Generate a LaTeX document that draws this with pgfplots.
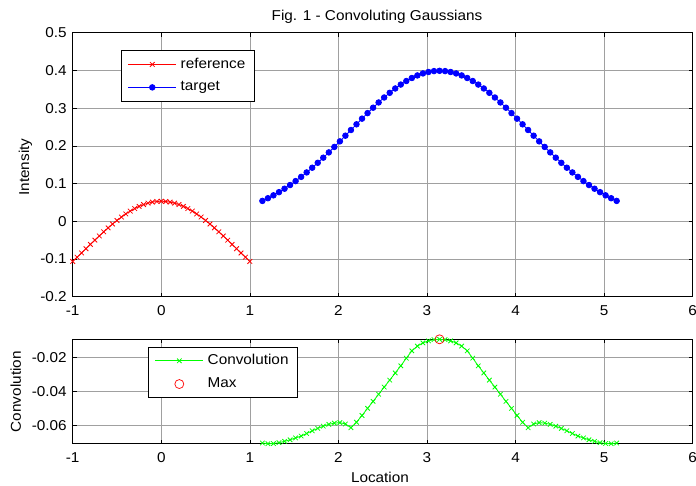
\documentclass[border=0pt]{standalone}
\usepackage{fontspec}
\setmainfont{Liberation Sans}[FakeStretch=1.07]
\usepackage{pgfplots}
\usepackage{pgfplotstable}
\pgfplotsset{compat=1.18}

\pgfplotstableread{
x y
-1.00 -0.1065
-0.95 -0.0953
-0.90 -0.0840
-0.85 -0.0727
-0.80 -0.0613
-0.75 -0.0500
-0.70 -0.0389
-0.65 -0.0280
-0.60 -0.0175
-0.55 -0.0073
-0.50 0.0022
-0.45 0.0112
-0.40 0.0195
-0.35 0.0270
-0.30 0.0337
-0.25 0.0395
-0.20 0.0443
-0.15 0.0481
-0.10 0.0508
-0.05 0.0524
0.00 0.0532
0.05 0.0524
0.10 0.0508
0.15 0.0481
0.20 0.0443
0.25 0.0395
0.30 0.0337
0.35 0.0270
0.40 0.0195
0.45 0.0112
0.50 0.0022
0.55 -0.0073
0.60 -0.0175
0.65 -0.0280
0.70 -0.0389
0.75 -0.0500
0.80 -0.0613
0.85 -0.0727
0.90 -0.0840
0.95 -0.0953
1.00 -0.1065
}\reftab

\pgfplotstableread{
x t c
1.1416 0.0540 -0.0702
1.2041 0.0611 -0.0706
1.2666 0.0688 -0.0705
1.3291 0.0772 -0.0700
1.3916 0.0863 -0.0692
1.4541 0.0961 -0.0683
1.5166 0.1065 -0.0672
1.5791 0.1177 -0.0661
1.6416 0.1295 -0.0646
1.7041 0.1420 -0.0630
1.7666 0.1550 -0.0616
1.8291 0.1686 -0.0603
1.8916 0.1826 -0.0592
1.9541 0.1971 -0.0585
2.0166 0.2119 -0.0582
2.0791 0.2269 -0.0590
2.1416 0.2420 -0.0612
2.2041 0.2571 -0.0580
2.2666 0.2721 -0.0540
2.3291 0.2868 -0.0498
2.3916 0.3011 -0.0457
2.4541 0.3150 -0.0415
2.5166 0.3282 -0.0373
2.5791 0.3406 -0.0332
2.6416 0.3521 -0.0290
2.7041 0.3625 -0.0248
2.7666 0.3719 -0.0203
2.8291 0.3799 -0.0160
2.8916 0.3867 -0.0132
2.9541 0.3920 -0.0113
3.0166 0.3958 -0.0101
3.0791 0.3982 -0.0094
3.1416 0.3989 -0.0092
3.2041 0.3982 -0.0094
3.2666 0.3958 -0.0101
3.3291 0.3920 -0.0113
3.3916 0.3867 -0.0132
3.4541 0.3799 -0.0160
3.5166 0.3719 -0.0203
3.5791 0.3625 -0.0248
3.6416 0.3521 -0.0290
3.7041 0.3406 -0.0332
3.7666 0.3282 -0.0373
3.8291 0.3150 -0.0415
3.8916 0.3011 -0.0457
3.9541 0.2868 -0.0498
4.0166 0.2721 -0.0540
4.0791 0.2571 -0.0580
4.1416 0.2420 -0.0612
4.2041 0.2269 -0.0590
4.2666 0.2119 -0.0582
4.3291 0.1971 -0.0585
4.3916 0.1826 -0.0592
4.4541 0.1686 -0.0603
4.5166 0.1550 -0.0616
4.5791 0.1420 -0.0630
4.6416 0.1295 -0.0646
4.7041 0.1177 -0.0661
4.7666 0.1065 -0.0672
4.8291 0.0961 -0.0683
4.8916 0.0863 -0.0692
4.9541 0.0772 -0.0700
5.0166 0.0688 -0.0705
5.0791 0.0611 -0.0706
5.1416 0.0540 -0.0702
}\gtab

\pgfplotsset{
  longleg/.style={legend image code/.code={\draw[mark repeat=2,mark phase=2,##1] plot coordinates {(0pt,0pt) (24pt,0pt) (48pt,0pt)};}},
  mat/.style={
    scale only axis,
    anchor=south west,
    width=620pt,
    xmin=-1, xmax=6,
    xtick={-1,0,1,2,3,4,5,6},
    xticklabels={-1,0,1,2,3,4,5,6},
    scaled y ticks=false,
    axis line style={line width=0.9pt},
    tick align=inside,
    major tick length=4pt,
    tick style={black, line width=0.6pt},
    grid=major,
    major grid style={draw={rgb,255:red,160;green,160;blue,160}, line width=0.6pt},
    clip=false,
    xticklabel style={yshift=-4pt},
    yticklabel style={xshift=-1pt},
    legend cell align=left,
  }
}

\begin{document}
\fontsize{14.3}{16}\selectfont
\begin{tikzpicture}
\useasboundingbox (0,0) rectangle (696pt,485pt);
\node[anchor=base] at (377pt,464.3pt) {Fig. 1 - Convoluting Gaussians};

\begin{axis}[mat,
  at={(72.7pt,188.3pt)}, height=264pt,
  ymin=-0.2, ymax=0.5,
  ytick={-0.2,-0.1,0,0.1,0.2,0.3,0.4,0.5},
  yticklabels={-0.2,-0.1,0,0.1,0.2,0.3,0.4,0.5},
  ylabel={Intensity},
  ylabel style={at={(axis description cs:-0.0761,0.491)}, anchor=center},
  legend style={at={(0.0774,0.9345)}, anchor=north west,
    inner xsep=7pt, inner ysep=6pt, row sep=7pt, column sep=2pt},
]
\addplot[color=red, line width=0.8pt, mark=x, mark size=3.3pt, mark options={line width=0.8pt}, longleg] table[x=x,y=y]{\reftab};
\addlegendentry{reference}
\addplot[color=blue, line width=0.8pt, mark=*, mark size=2.8pt, longleg] table[x=x,y=t]{\gtab};
\addlegendentry{target}
\end{axis}

\begin{axis}[mat,
  at={(72.7pt,41.3pt)}, height=104.4pt,
  ymin=-0.0706, ymax=-0.0092,
  ytick={-0.06,-0.04,-0.02},
  yticklabels={-0.06,-0.04,-0.02},
  ylabel={Convolution},
  ylabel style={at={(axis description cs:-0.0918,0.498)}, anchor=center},
  xlabel={Location},
  xlabel style={at={(axis description cs:0.4956,-0.319)}, anchor=center},
  legend style={at={(0.121,0.923)}, anchor=north west,
    inner xsep=7pt, inner ysep=5pt, row sep=7pt, column sep=2pt},
]
\addplot[color=green, line width=0.8pt, mark=x, mark size=3.2pt, mark options={line width=0.8pt}, longleg] table[x=x,y=c]{\gtab};
\addlegendentry{Convolution}
\addplot[only marks, color=red, mark=o, mark size=4.5pt, mark options={line width=0.7pt}, longleg] coordinates {(3.1416,-0.0092)};
\addlegendentry{Max}
\end{axis}
\end{tikzpicture}
\end{document}
